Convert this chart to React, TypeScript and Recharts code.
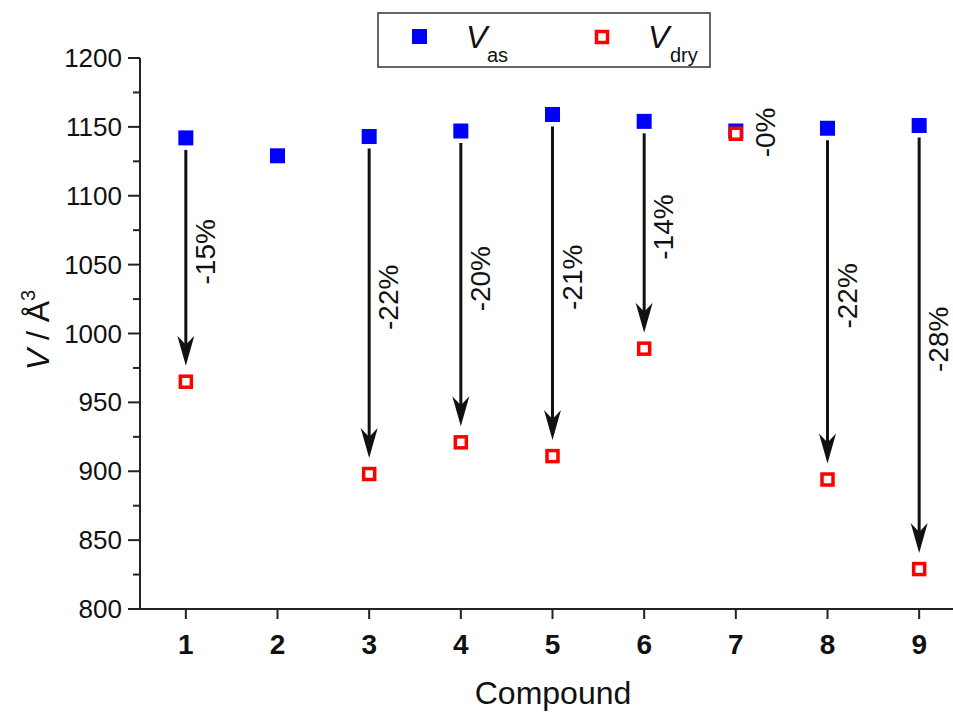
import {
  ReferenceLine,
  Scatter,
  ScatterChart,
  XAxis,
  YAxis,
} from 'recharts';

const compounds = [1, 2, 3, 4, 5, 6, 7, 8, 9];
const vAs = [1142, 1129, 1143, 1147, 1159, 1154, 1147, 1149, 1151];
const vDry: (number | null)[] = [965, null, 898, 921, 911, 989, 1145, 894, 829];
const changes: (string | null)[] = ['-15%', null, '-22%', '-20%', '-21%', '-14%', '-0%', '-22%', '-28%'];
const yTicks = [800, 825, 850, 875, 900, 925, 950, 975, 1000, 1025, 1050, 1075, 1100, 1125, 1150, 1175, 1200];

const FONT = '"Liberation Sans", Arial, Helvetica, sans-serif';

const asData = compounds.map((c, i) => ({ x: c, y: vAs[i] }));
const dryData = compounds
  .map((c, i) => ({ x: c, y: vDry[i] }))
  .filter((d) => d.y !== null);

const FilledSquare = (props: any) => {
  const { cx, cy } = props;
  return <rect x={cx - 7.5} y={cy - 7.5} width={15} height={15} fill='#0000ff' />;
};

const HollowSquare = (props: any) => {
  const { cx, cy } = props;
  return (
    <rect x={cx - 5.5} y={cy - 5.5} width={11} height={11} fill='#fff' stroke='#ff0000' strokeWidth={3.5} />
  );
};

// arrow from V_as down to V_dry, label sits beside it
const makeArrow = (label: string) => (props: any) => {
  const { x1, y1, y2 } = props;
  const start = y1 + 12;
  const tip = y2 - 16;
  const hasArrow = tip - start > 30;
  const mid = (y1 + y2) / 2 - (hasArrow ? 8 : 0);
  const lx = x1 + (hasArrow ? 19 : 29);
  return (
    <g>
      {hasArrow && (
        <>
          <line x1={x1} y1={start} x2={x1} y2={tip - 20} stroke='#111' strokeWidth={3} />
          <path
            d={`M${x1},${tip} L${x1 - 8.5},${tip - 30} L${x1},${tip - 21} L${x1 + 8.5},${tip - 30} Z`}
            fill='#111'
          />
        </>
      )}
      <text
        x={lx}
        y={mid}
        transform={`rotate(-90 ${lx} ${mid})`}
        textAnchor='middle'
        dy='0.36em'
        fontSize={28}
        fontFamily={FONT}
        fill='#111'
      >
        {label}
      </text>
    </g>
  );
};

const YTick = (props: any) => {
  const { x, y, payload } = props;
  const major = payload.value % 50 === 0;
  return (
    <g>
      <line x1={x - (major ? 12 : 7)} y1={y} x2={x} y2={y} stroke='#222' strokeWidth={2} />
      {major && (
        <text x={x - 18} y={y} dy='0.35em' textAnchor='end' fontSize={26} fontFamily={FONT} fill='#111'>
          {payload.value}
        </text>
      )}
    </g>
  );
};

const XTick = (props: any) => {
  const { x, y, payload } = props;
  return (
    <text x={x} y={y + 33} textAnchor='middle' fontSize={28} fontWeight='bold' fontFamily={FONT} fill='#111'>
      {payload.value}
    </text>
  );
};

const Legend = () => (
  <svg
    width={334}
    height={56}
    style={{ position: 'absolute', left: 377, top: 12 }}
  >
    <rect x={1} y={1} width={332} height={54} fill='#fff' stroke='#333' strokeWidth={1.5} />
    <rect x={35} y={17} width={15} height={15} fill='#0000ff' />
    <text x={89} y={36} fontSize={32} fontStyle='italic' fontFamily={FONT} fill='#111'>V</text>
    <text x={110} y={50} fontSize={20} fontFamily={FONT} fill='#111'>as</text>
    <rect x={219.5} y={19.5} width={11} height={11} fill='#fff' stroke='#ff0000' strokeWidth={3.5} />
    <text x={271} y={36} fontSize={32} fontStyle='italic' fontFamily={FONT} fill='#111'>V</text>
    <text x={293} y={50} fontSize={20} fontFamily={FONT} fill='#111'>dry</text>
  </svg>
);

export default function App() {
  return (
    <div
      style={{
        position: 'absolute',
        left: 0,
        top: 0,
        width: 953,
        height: 713,
        overflow: 'hidden',
        background: '#fff',
      }}
    >
      <ScatterChart width={965} height={713} margin={{ top: 58, right: 0, bottom: 0, left: 0 }}>
        <XAxis
          type='number'
          dataKey='x'
          domain={[0.5, 9.5]}
          allowDataOverflow
          ticks={compounds}
          interval={0}
          height={104}
          tickSize={10}
          axisLine={{ stroke: '#222', strokeWidth: 2 }}
          tickLine={{ stroke: '#222', strokeWidth: 2 }}
          tick={<XTick />}
          label={{
            content: () => (
              <text x={553} y={704} textAnchor='middle' fontSize={32} fontFamily={FONT} fill='#111'>
                Compound
              </text>
            ),
          }}
        />
        <YAxis
          type='number'
          dataKey='y'
          domain={[800, 1200]}
          allowDataOverflow
          ticks={yTicks}
          interval={0}
          width={140}
          tickSize={0}
          tickMargin={0}
          tickLine={false}
          axisLine={{ stroke: '#222', strokeWidth: 2 }}
          tick={<YTick />}
          label={{
            content: () => (
              <text
                x={38}
                y={330}
                transform='rotate(-90 38 330)'
                textAnchor='middle'
                dy='0.35em'
                fontSize={32}
                fontFamily={FONT}
                fill='#111'
              >
                <tspan fontStyle='italic'>V</tspan>
                <tspan> / Å</tspan>
                <tspan dy={-14} fontSize={20}>3</tspan>
              </text>
            ),
          }}
        />
        {compounds.map((c, i) =>
          vDry[i] !== null && changes[i] ? (
            <ReferenceLine
              key={c}
              segment={[
                { x: c, y: vAs[i] },
                { x: c, y: vDry[i] as number },
              ]}
              shape={makeArrow(changes[i] as string)}
            />
          ) : null,
        )}
        <Scatter name='Vas' data={asData} shape={<FilledSquare />} isAnimationActive={false} />
        <Scatter name='Vdry' data={dryData} shape={<HollowSquare />} isAnimationActive={false} />
      </ScatterChart>
      <Legend />
    </div>
  );
}
